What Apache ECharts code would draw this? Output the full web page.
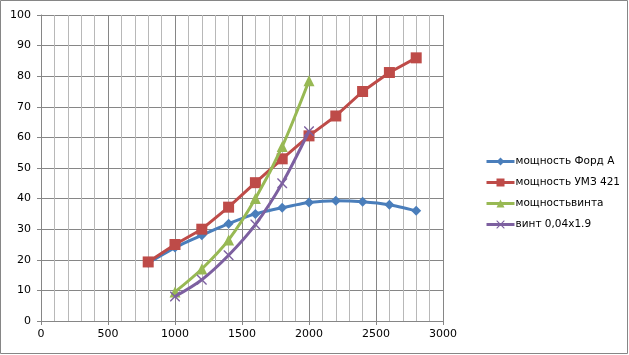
<!DOCTYPE html>
<html>
<head>
<meta charset="utf-8">
<script src="https://cdn.jsdelivr.net/npm/echarts@6/dist/echarts.min.js"></script>
<style>
    html, body {margin: 0; padding: 0; background: #fff;}
    #chart {width: 629px; height: 355px;}
</style>
</head>
<body>
<div id="chart"></div>
<script>
// data
const seriesNames = ['мощность Форд А', 'мощность УМЗ 421', 'мощностьвинта', 'винт 0,04x1.9'];
const fordRpm = [800, 1000, 1200, 1400, 1600, 1800, 2000, 2200, 2400, 2600, 2800];
const fordPower = [19, 24, 28, 31.8, 35, 37, 38.7, 39.3, 39, 38, 36];
const umzRpm = [800, 1000, 1200, 1400, 1600, 1800, 2000, 2200, 2400, 2600, 2800];
const umzPower = [19.3, 25, 30, 37.2, 45.2, 53, 60.5, 67, 75, 81.2, 86];
const propRpm = [1000, 1200, 1400, 1600, 1800, 2000];
const propPower = [9.5, 17, 26.5, 40, 57, 78.5];
const prop2Rpm = [1000, 1200, 1400, 1600, 1800, 2000];
const prop2Power = [8, 13.5, 21.5, 31.5, 45, 62];

const colors = ['#4a7ebb', '#be4b48', '#98b954', '#7d60a0'];
const crossSymbol = 'path://M0,0L1,0L5,4L9,0L10,0L10,1L6,5L10,9L10,10L9,10L5,6L1,10L0,10L0,9L4,5L0,1Z';

const pairs = (xs, ys) => xs.map((x, i) => [x, ys[i]]);

const chart = echarts.init(document.getElementById('chart'));
const font = 'DejaVu Sans';

const option = {
    animation: false,
    textStyle: {fontFamily: font},
    graphic: [{
        type: 'rect',
        shape: {x: 0.5, y: 0.5, width: 627, height: 353},
        style: {fill: 'none', stroke: '#868686', lineWidth: 1}
    }],
    grid: {left: 41, right: 186, top: 15, bottom: 34},
    legend: {
        orient: 'vertical',
        left: 480,
        top: 151,
        itemWidth: 28,
        itemHeight: 10,
        itemGap: 10,
        lineStyle: {width: 3},
        textStyle: {fontFamily: font, fontSize: 10.5, color: '#000', padding: [0, 0, 0, -4]},
        data: seriesNames
    },
    xAxis: {
        type: 'value',
        min: 0,
        max: 3000,
        interval: 500,
        axisLine: {show: true, lineStyle: {color: '#868686'}},
        axisTick: {show: true, length: 4, lineStyle: {color: '#868686'}},
        axisLabel: {fontFamily: font, fontSize: 11, color: '#000', margin: 8, formatter: v => String(v)},
        splitLine: {show: true, lineStyle: {color: '#868686'}},
        minorTick: {show: false, splitNumber: 5},
        minorSplitLine: {show: true, lineStyle: {color: '#b8b8b8'}}
    },
    yAxis: {
        type: 'value',
        min: 0,
        max: 100,
        interval: 10,
        axisLine: {show: true, lineStyle: {color: '#868686'}},
        axisTick: {show: true, length: 4, lineStyle: {color: '#868686'}},
        axisLabel: {fontFamily: font, fontSize: 11, color: '#000', margin: 10},
        splitLine: {show: true, lineStyle: {color: '#868686'}}
    },
    series: [
        {
            name: seriesNames[0], type: 'line', data: pairs(fordRpm, fordPower),
            symbol: 'diamond', symbolSize: 10, smooth: 0.2,
            lineStyle: {color: colors[0], width: 3}, itemStyle: {color: colors[0]}, z: 3
        },
        {
            name: seriesNames[1], type: 'line', data: pairs(umzRpm, umzPower),
            symbol: 'rect', symbolSize: 11,
            lineStyle: {color: colors[1], width: 3}, itemStyle: {color: colors[1]}, z: 4
        },
        {
            name: seriesNames[2], type: 'line', data: pairs(propRpm, propPower),
            symbol: 'triangle', symbolSize: 11, smooth: 0.3,
            lineStyle: {color: colors[2], width: 3}, itemStyle: {color: colors[2]}, z: 5
        },
        {
            name: seriesNames[3], type: 'line', data: pairs(prop2Rpm, prop2Power),
            symbol: crossSymbol, symbolSize: 10, smooth: 0.3,
            lineStyle: {color: colors[3], width: 3}, itemStyle: {color: colors[3]}, z: 6
        }
    ]
};
chart.setOption(option);
</script>
</body>
</html>
